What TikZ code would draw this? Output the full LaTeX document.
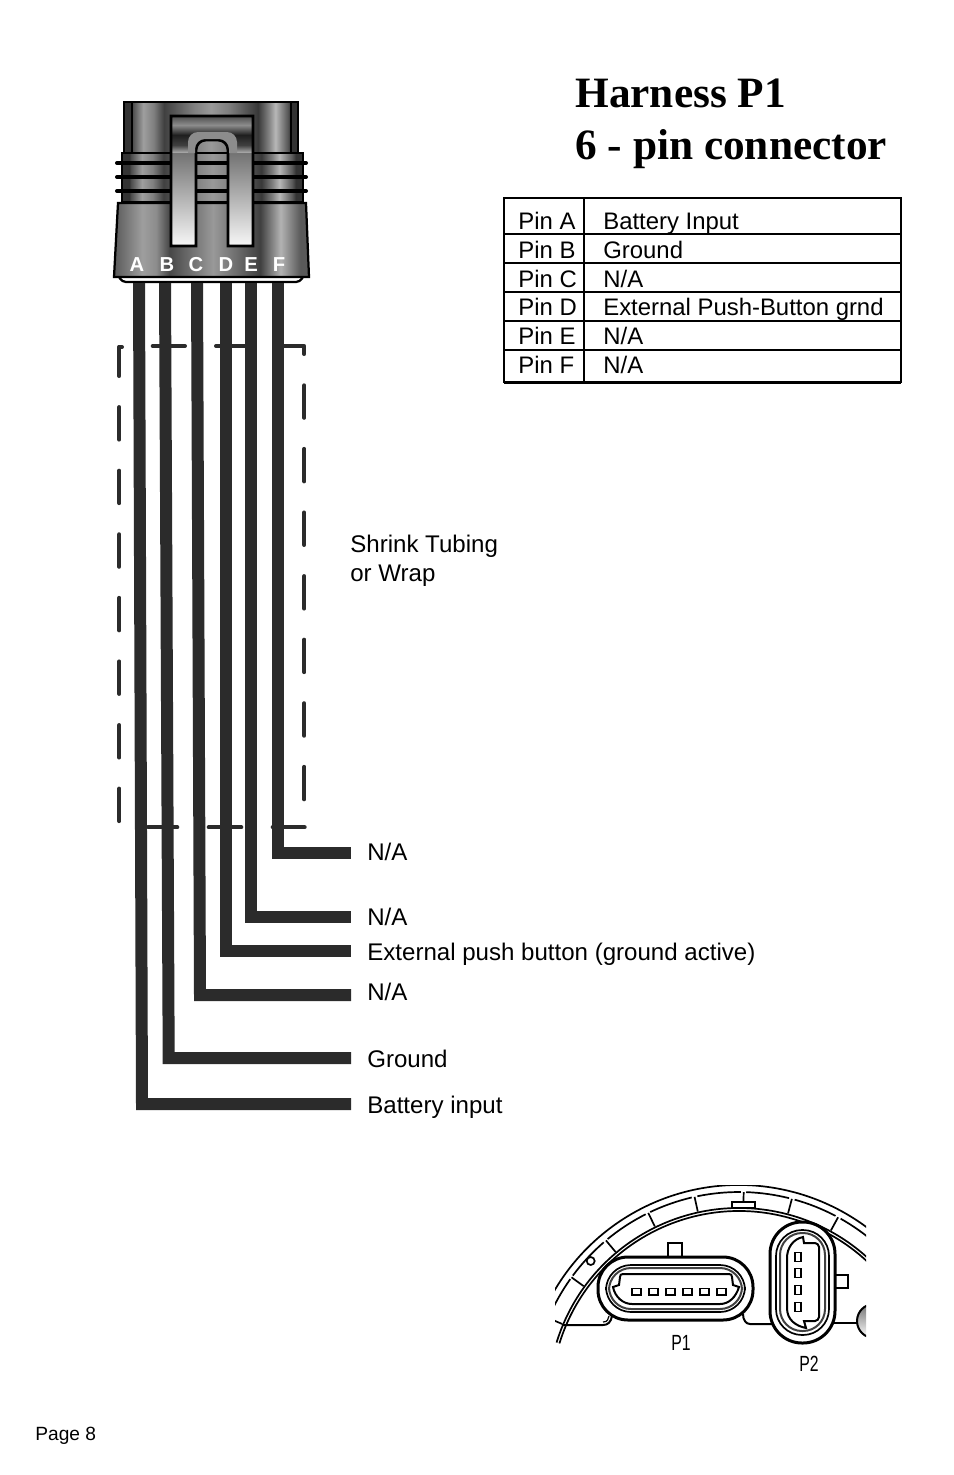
\documentclass[tikz,border=0pt]{standalone}
\usepackage{fontspec}
\setmainfont{Liberation Sans}
\newfontfamily\titlefont{Liberation Serif}
\newfontfamily\narrowfont[FakeStretch=0.72]{Liberation Sans}
\definecolor{wirecol}{HTML}{2B2B2B}
\pgfdeclarehorizontalshading{shadetop}{100bp}{color(0bp)=(black!80); color(25bp)=(black!80); color(27bp)=(black!80); color(27.5bp)=(black!70); color(30.5bp)=(black!38); color(33.5bp)=(black!50); color(36.5bp)=(black!75); color(45bp)=(black!50); color(50bp)=(black!40); color(55bp)=(black!50); color(63.5bp)=(black!78); color(66.5bp)=(black!50); color(68.5bp)=(black!28); color(72bp)=(black!65); color(73bp)=(black!80); color(100bp)=(black!80)}
\pgfdeclarehorizontalshading{shadelow}{100bp}{color(0bp)=(black!65); color(25bp)=(black!65); color(32.3bp)=(black!38); color(35.8bp)=(black!45); color(39.2bp)=(black!72); color(50.4bp)=(black!40); color(62.5bp)=(black!75); color(67.7bp)=(black!30); color(72.8bp)=(black!65); color(100bp)=(black!65)}
\pgfdeclareverticalshading{shadeclip}{100bp}{color(0bp)=(black!3); color(25bp)=(black!3); color(60.8bp)=(black!55); color(60.9bp)=(black!32); color(63.8bp)=(black!75); color(67.7bp)=(black!88); color(71.5bp)=(black!45); color(75bp)=(black!70); color(100bp)=(black!70)}
\tikzset{
 wire/.style={draw=wirecol,line width=.24cm},
 tube/.style={draw=wirecol,line width=.08cm,line cap=round,line join=round},
 tubedash/.style={tube,dash pattern=on .65cm off .622cm},
 outln/.style={draw=black,line width=.045cm},
 ring/.style={draw=black,line width=.08cm,line cap=round},
 pinltr/.style={inner sep=0,text=white,font=\fontsize{11.5}{13}\selectfont\bfseries},
 lbl/.style={anchor=base west,inner ysep=0,inner xsep=.32cm,font=\fontsize{13.7}{16.4}\selectfont},
 cell/.style={anchor=base west,inner sep=0,font=\fontsize{13.6}{16.4}\selectfont},
 hdr/.style={anchor=base west,inner sep=0,font=\fontsize{24.65}{30}\titlefont\bfseries},
 thinl/.style={draw=black,line width=.024cm},
 gaugel/.style={draw=black,line width=.034cm},
 medl/.style={draw=black,line width=.04cm},
 heavyl/.style={draw=black,line width=.06cm},
 plug/.style={inner sep=0,font=\fontsize{12.5}{14}\narrowfont}
}
\begin{document}
\begin{tikzpicture}[x=.02cm,y=-.02cm]
 \useasboundingbox (0,0) rectangle (954,1475);
 % title
 \node[hdr] (titleA) at (575,107) {Harness P1};
 \node[hdr] (titleB) at (575,159.500) {6 - pin connector};
 % pin table
 \draw[medl] (504,198)--(901,198);
 \draw[medl] (504,197)--(504,383);
 \draw[medl] (901,197)--(901,383);
 \draw[medl] (504,233.500)--(901,233.500);
 \draw[thinl] (504,263)--(901,263);
 \draw[medl] (504,292)--(901,292);
 \draw[thinl] (504,321)--(901,321);
 \draw[medl] (504,350)--(901,350);
 \draw[heavyl] (504,382)--(901,382);
 \draw[thinl] (584,198)--(584,382);
 \node[cell] (pinrowA) at (518,229) {Pin A};
 \node[cell] (pinrowB) at (518,258) {Pin B};
 \node[cell] (pinrowC) at (518,287) {Pin C};
 \node[cell] (pinrowD) at (518,315) {Pin D};
 \node[cell] (pinrowE) at (518,344) {Pin E};
 \node[cell] (pinrowF) at (518,373) {Pin F};
 \node[cell] (useA) at (603,229) {Battery Input};
 \node[cell] (useB) at (603,258) {Ground};
 \node[cell] (useC) at (603,287) {N/A};
 \node[cell] (useD) at (603,315) {External Push-Button grnd};
 \node[cell] (useE) at (603,344) {N/A};
 \node[cell] (useF) at (603,373) {N/A};
 % connector body
 \shade[shading=shadetop,outln] (124,102) rectangle (298,155);
 \draw[outln] (132,102)--(132,153);
 \draw[outln] (291,102)--(291,153);
 \shade[shading=shadetop,outln] (122,153) rectangle (303,202);
 \draw[ring] (117,163)--(306,163);
 \draw[ring] (117,177)--(306,177);
 \draw[ring] (117,191)--(306,191);
 \draw[outln,fill=white,rounded corners=.08cm] (118,275)--(122,282)--(300,282)--(304,275);
 \shade[shading=shadelow,outln] (118,203)--(306,203)--(309,277)--(114,277)--cycle;
 \shade[shading=shadeclip,draw=black,line width=.055cm] (171,246)--(171,116)--(253,116)--(253,246)--(228,246) [rounded corners=.2cm] --(228,140)--(196,140) [sharp corners] --(196,246)--cycle;
 \fill[black!45] (188,153) [rounded corners=.2cm] --(188,132)--(237,132) [sharp corners] --(237,153)--(229,153) [rounded corners=.2cm] --(229,139)--(195,139) [sharp corners] --(195,153)--cycle;
 \node[pinltr] (pinA) at (137,265) {A};
 \node[pinltr] (pinB) at (167,265) {B};
 \node[pinltr] (pinC) at (196,265) {C};
 \node[pinltr] (pinD) at (226,265) {D};
 \node[pinltr] (pinE) at (251,265) {E};
 \node[pinltr] (pinF) at (279,265) {F};
 % shrink tubing
 \draw[tube] (122,347)--(119.300,347);
 \draw[tubedash,dash phase=.07cm] (119.300,347)--(119.300,821.700);
 \draw[tube] (152.700,346)--(185,346);
 \draw[tube] (216,346)--(248,346);
 \draw[tube] (280,346)--(304.300,346)--(304.300,354);
 \draw[tubedash] (304.300,385.300)--(304.300,799.700);
 \draw[tube] (148,827.300)--(177.300,827.300);
 \draw[tube] (208.700,827.300)--(241.300,827.300);
 \draw[tube] (272.700,827.300)--(304.700,827.300);
 \node[anchor=north west,inner sep=0,align=left,font=\fontsize{13.7}{16.4}\selectfont] (wrapnote) at (350,535) {Shrink Tubing\\or Wrap};
 % wire labels
 \node[lbl] (lblF) at (351,860) {N/A};
 \node[lbl] (lblE) at (351,925) {N/A};
 \node[lbl] (lblD) at (351,960) {External push button (ground active)};
 \node[lbl] (lblC) at (351,1000) {N/A};
 \node[lbl] (lblB) at (351,1067) {Ground};
 \node[lbl] (lblA) at (351,1113) {Battery input};
 % wires
 \coordinate (topA) at (139,283);
 \coordinate (topB) at (165,283);
 \coordinate (topC) at (197,283);
 \coordinate (topD) at (226,283);
 \coordinate (topE) at (251,283);
 \coordinate (topF) at (278,283);
 \coordinate (kneeA) at (142,1104);
 \coordinate (kneeB) at (168.700,1058);
 \coordinate (kneeC) at (200,995);
 \coordinate (kneeD) at (226,951);
 \coordinate (kneeE) at (251,917);
 \coordinate (kneeF) at (278,853);
 \draw[wire] (topA)--(kneeA)--(kneeA -| lblA.west);
 \draw[wire] (topB)--(kneeB)--(kneeB -| lblB.west);
 \draw[wire] (topC)--(kneeC)--(kneeC -| lblC.west);
 \draw[wire] (topD)--(kneeD)--(kneeD -| lblD.west);
 \draw[wire] (topE)--(kneeE)--(kneeE -| lblE.west);
 \draw[wire] (topF)--(kneeF)--(kneeF -| lblF.west);
 % gauge back with P1 and P2
 \begin{scope}
 \clip (555,1185) rectangle (866,1375);
 \begin{scope}[shift={(739,1399)},y=.02cm]
 \draw[gaugel] (165:214) arc[start angle=165,end angle=40,radius=214];
 \draw[gaugel] (162.800:191) arc[start angle=162.800,end angle=40,radius=191];
 \draw[gaugel] (162.800:188) arc[start angle=162.800,end angle=40,radius=188];
 \draw[gaugel] (156.400:207) arc[start angle=156.400,end angle=144.600,radius=207];
 \draw[gaugel] (143.400:207) arc[start angle=143.400,end angle=130.800,radius=207];
 \draw[gaugel] (129.400:207) arc[start angle=129.400,end angle=116.800,radius=207];
 \draw[gaugel] (115.400:207) arc[start angle=115.400,end angle=103.200,radius=207];
 \draw[gaugel] (101.600:207) arc[start angle=101.600,end angle=89.500,radius=207];
 \draw[gaugel] (88.000:207) arc[start angle=88.000,end angle=76,radius=207];
 \draw[gaugel] (74.400:207) arc[start angle=74.400,end angle=62.200,radius=207];
 \draw[gaugel] (60.600:207) arc[start angle=60.600,end angle=48.500,radius=207];
 \draw[gaugel] (157:192)--(157:207);
 \draw[gaugel] (144:192)--(144:207);
 \draw[gaugel] (130:192)--(130:207);
 \draw[gaugel] (116:192)--(116:207);
 \draw[gaugel] (102.400:192)--(102.400:207);
 \draw[gaugel] (88.700:196)--(88.700:207);
 \draw[gaugel] (75.200:192)--(75.200:207);
 \draw[gaugel] (61.400:192)--(61.400:207);
 \end{scope}
 \draw[gaugel] (590.700,1261) circle (4);
 \draw[gaugel,fill=white] (732,1202) rectangle (755,1208);
 % ground line and boss
 \draw[medl] (562,1325)--(603,1325) .. controls (608,1325) and (611,1322) .. (612,1316);
 \draw[thinl] (603,1322) .. controls (608,1322) and (608,1319) .. (609,1316);
 \draw[medl] (743,1314) .. controls (743,1320) and (746,1324) .. (750,1324)--(772,1324);
 \draw[medl] (833,1323)--(857,1323);
 \shade[top color=black!55,bottom color=white,draw=black,line width=.04cm] (874,1321) circle (17);
 % P1
 \draw[gaugel,fill=white] (668,1243) rectangle (682,1258);
 \draw[heavyl,fill=white,rounded corners=.6cm] (598,1257) rectangle (753,1320);
 \draw[gaugel,rounded corners=.5cm] (606,1265) rectangle (745,1312);
 \draw[medl,draw=black!75,rounded corners=.44cm] (609,1268) rectangle (742,1309);
 \draw[medl,fill=white] (619,1285)--(620,1277) .. controls (620,1275) and (621,1274) .. (623,1274)--(729,1274) .. controls (731,1274) and (732,1275) .. (732,1277)--(733,1285)--(739,1287) .. controls (736,1297) and (729,1304) .. (720,1304)--(632,1304) .. controls (623,1304) and (615,1297) .. (613,1287)--cycle;
 \draw[gaugel] (632,1288.500) rectangle (641,1295);
 \draw[gaugel] (649,1288.500) rectangle (658,1295);
 \draw[gaugel] (666,1288.500) rectangle (675,1295);
 \draw[gaugel] (683,1288.500) rectangle (692,1295);
 \draw[gaugel] (700,1288.500) rectangle (709,1295);
 \draw[gaugel] (717,1288.500) rectangle (726,1295);
 % P2
 \draw[gaugel,fill=white] (834,1275) rectangle (848,1288);
 \draw[heavyl,fill=white,rounded corners=.64cm] (770,1222) rectangle (835,1343);
 \draw[gaugel,rounded corners=.52cm] (776,1230) rectangle (829,1335);
 \draw[medl,draw=black!75,rounded corners=.44cm] (780,1233) rectangle (825,1331);
 \draw[medl,fill=white] (803,1237) .. controls (793,1239) and (787,1248) .. (787,1258)--(787,1308) .. controls (787,1320) and (796,1326) .. (806,1328)--(804,1321)--(815,1321) .. controls (817,1321) and (819,1319) .. (819,1317)--(819,1247) .. controls (819,1245) and (817,1243) .. (815,1243)--(804,1243)--cycle;
 \draw[gaugel] (795,1252.500) rectangle (801,1261.500);
 \draw[gaugel] (795,1268.500) rectangle (801,1277.500);
 \draw[gaugel] (795,1285.500) rectangle (801,1294.500);
 \draw[gaugel] (795,1302.500) rectangle (801,1311.500);
 \end{scope}
 \node[plug] (plugA) at (681,1343) {P1};
 \node[plug] (plugB) at (809,1364) {P2};
 \node[anchor=base west,inner sep=0,font=\fontsize{10.9}{13}\selectfont] (pagenum) at (35,1440) {Page 8};
\end{tikzpicture}
\end{document}
